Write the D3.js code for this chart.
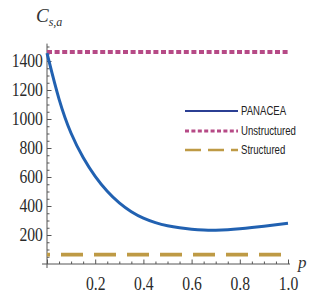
<!DOCTYPE html>
<html><head><meta charset="utf-8">
<script src="https://cdn.jsdelivr.net/npm/d3@7"></script>
<style>body{margin:0;background:#fff}svg{display:block}</style>
</head><body>
<svg id="c" width="310" height="304"></svg>
<script>
const tValues = [0,0.05,0.1,0.15,0.2,0.25,0.3,0.35,0.4,0.45,0.5,0.55,0.6,0.65,0.7,0.75,0.8,0.85,0.9,0.95,1.0];
const panacea = [1455,1120,890,730,600,498,418,358,314,284,263,249,239,233,232,235,242,251,261,271,281];
const unstructured = 1462;
const structured = 65;
const seriesNames = ["PANACEA","Unstructured","Structured"];
const xTicks = [0.2,0.4,0.6,0.8,1.0];
const yTicks = [200,400,600,800,1000,1200,1400];

const svg = d3.select("#c");
const x = d3.scaleLinear().domain([0,1]).range([47,288]);
const y = d3.scaleLinear().domain([0,1520]).range([264,43.6]);
const axisCol = "#555";

// axis lines
svg.append("line").attr("x1",42).attr("x2",290).attr("y1",y(0)).attr("y2",y(0)).attr("stroke",axisCol).attr("stroke-width",1);
svg.append("line").attr("x1",x(0)).attr("x2",x(0)).attr("y1",y(1520)).attr("y2",268).attr("stroke",axisCol).attr("stroke-width",1);

// minor ticks
const yMinor = d3.range(50,1520,50).filter(v=>v%200!==0);
const xMinor = d3.range(0.05,1.001,0.05).filter(v=>Math.abs(v*5-Math.round(v*5))>1e-6);
svg.append("g").attr("transform",`translate(${x(0)},0)`)
  .call(d3.axisRight(y).tickValues(yMinor).tickSize(2.5).tickFormat(""))
  .call(g=>{g.select(".domain").remove();g.selectAll("line").attr("stroke",axisCol);});
svg.append("g").attr("transform",`translate(0,${y(0)})`)
  .call(d3.axisTop(x).tickValues(xMinor).tickSize(2.5).tickFormat(""))
  .call(g=>{g.select(".domain").remove();g.selectAll("line").attr("stroke",axisCol);});

// major y
svg.append("g").attr("transform",`translate(${x(0)},0)`)
  .call(d3.axisRight(y).tickValues(yTicks).tickSize(4.5).tickFormat(d3.format("d")))
  .call(g=>{
    g.select(".domain").remove();
    g.selectAll("line").attr("stroke",axisCol);
    g.selectAll("text").attr("x",-4.7).attr("text-anchor","end")
      .attr("font-family","'Liberation Serif',serif").attr("font-size",18).attr("fill","#2a2a2a")
      .attr("transform","scale(0.87,1)").attr("dy","0.33em");
  });
// major x
svg.append("g").attr("transform",`translate(0,${y(0)})`)
  .call(d3.axisTop(x).tickValues([0].concat(xTicks)).tickSize(4.5).tickFormat(d=>d===0?"":d3.format(".1f")(d)))
  .call(g=>{
    g.select(".domain").remove();
    g.selectAll("line").attr("stroke",axisCol);
    g.selectAll("text").attr("y",26).attr("dy",0).attr("text-anchor","middle")
      .attr("font-family","'Liberation Serif',serif").attr("font-size",18).attr("fill","#2a2a2a")
      .attr("transform","scale(0.87,1)");
  });

// axis labels
const yl = svg.append("text").attr("x",36).attr("y",22).attr("font-family","'Liberation Serif',serif")
  .attr("font-style","italic").attr("fill","#333");
yl.append("tspan").attr("font-size",19).text("C");
yl.append("tspan").attr("font-size",12).attr("dy",4).text("s,a");
svg.append("text").attr("x",298).attr("y",268).attr("font-family","'Liberation Serif',serif")
  .attr("font-style","italic").attr("font-size",17).attr("fill","#333").text("p");

// series
const blue = "#2161b1", pink = "#b64a86", gold = "#be9a45";
svg.append("line").attr("x1",x(0)).attr("x2",x(1)+2).attr("y1",y(structured)).attr("y2",y(structured))
  .attr("stroke",gold).attr("stroke-width",3.6).attr("stroke-dasharray","22,11").attr("stroke-dashoffset",19);
svg.append("line").attr("x1",x(0)).attr("x2",x(1)+1).attr("y1",y(unstructured)).attr("y2",y(unstructured))
  .attr("stroke",pink).attr("stroke-width",3.8).attr("stroke-dasharray","5,2.6");
const line = d3.line().x((d,i)=>x(tValues[i])).y(d=>y(d)).curve(d3.curveBasis);
svg.append("path").attr("d",line(panacea)).attr("fill","none").attr("stroke",blue).attr("stroke-width",3);

// legend
const lg = svg.append("g");
const legY = [111,131,150];
const legStyles = [
  {c:"#2b3f93",w:2,d:null},
  {c:pink,w:3.2,d:"4,2.4"},
  {c:gold,w:2.4,d:"16,7"}
];
seriesNames.forEach((n,i)=>{
  const s = legStyles[i];
  const l = lg.append("line").attr("x1",185).attr("x2",238).attr("y1",legY[i]).attr("y2",legY[i])
    .attr("stroke",s.c).attr("stroke-width",s.w);
  if (s.d) l.attr("stroke-dasharray",s.d);
  lg.append("text").attr("transform",`translate(241,${legY[i]}) scale(0.8,1)`).attr("dy","0.36em")
    .attr("font-family","'Liberation Sans',Arial,sans-serif").attr("font-size",12).attr("fill","#222").text(n);
});
</script>
</body></html>
